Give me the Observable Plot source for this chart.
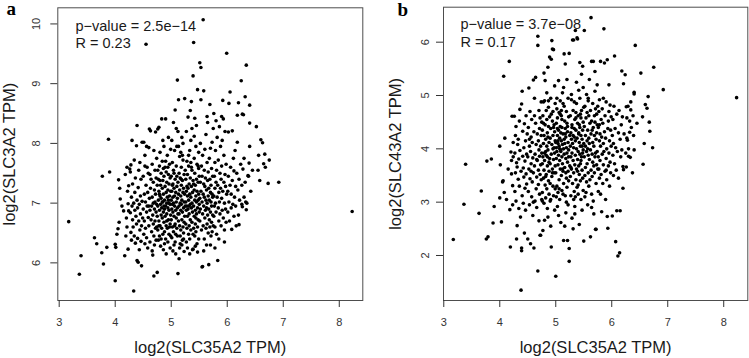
<!DOCTYPE html>
<html><head><meta charset="utf-8">
<script src="https://cdn.jsdelivr.net/npm/d3@7"></script>
<script src="https://cdn.jsdelivr.net/npm/@observablehq/plot@0.6"></script>
<style>
body{margin:0;background:#fff;}
#wrap{display:flex;width:749px;height:358px;overflow:hidden;}
#wrap svg{display:block;flex:none;}
</style></head><body><div id="wrap"></div>
<script>
// shared x: log2(SLC35A2 TPM)
const slc35a2 = [
3.17,3.36,3.39,3.63,3.67,3.76,3.77,3.79,3.85,3.88,3.90,
4.00,4.00,4.01,4.03,4.05,4.07,4.06,4.08,4.09,4.12,4.15,4.17,4.18,4.19,4.20,4.21,4.21,4.22,4.23,4.23,4.24,4.24,
4.26,4.27,4.27,4.28,4.28,4.29,4.29,4.30,4.30,4.31, 4.31,4.32,4.33,4.33,4.34,4.34,4.35,4.35,4.36,4.36, 4.37,4.38,4.38,4.39,4.39,4.39,4.40,4.40,4.41,4.41, 4.42,4.42,4.43,4.43,4.44,4.44,4.45,4.45,4.46,4.46, 4.47,4.47,4.48,4.48,4.49,
4.50,4.50,4.51,4.51,4.52,4.52,4.53,4.53,4.54,4.54, 4.55,4.55,4.56,4.56,4.57,4.57,4.58,4.58,4.59,4.59, 4.60,4.60,4.61,4.61,4.62,4.62,4.63,4.63,4.64,4.64, 4.65,4.65,4.66,4.66,4.67,4.67,4.68,4.68,4.68,4.69, 4.69,4.69,4.70,4.70,4.70,4.71,4.71,4.71,4.72,4.72, 4.72,4.73,4.73,4.73,4.74,4.74,4.74,4.75,4.75,4.75, 4.56,4.62,4.66,4.53,4.60,
4.76,4.76,4.76,4.77,4.77,4.77,4.78,4.78,4.78,4.79, 4.79,4.79,4.80,4.80,4.80,4.81,4.81,4.81,4.82,4.82, 4.82,4.83,4.83,4.83,4.84,4.84,4.84,4.85,4.85,4.85, 4.86,4.86,4.86,4.87,4.87,4.87,4.88,4.88,4.88,4.89, 4.89,4.89,4.90,4.90,4.90,4.91,4.91,4.91,4.92,4.92, 4.92,4.93,4.93,4.93,4.94,4.94,4.94,4.95,4.95,4.95, 4.96,4.96,4.96,4.97,4.97,4.97,4.98,4.98,4.98,4.99, 4.99,4.99,4.76,4.78,4.80,4.82,4.84,4.86,4.88,4.90, 4.92,4.94,4.96,4.98,4.85,4.91,4.79,4.95,4.87,4.99,
5.00,5.00,5.00,5.01,5.01,5.01,5.02,5.02,5.02,5.03, 5.03,5.03,5.04,5.04,5.04,5.05,5.05,5.05,5.06,5.06, 5.06,5.07,5.07,5.07,5.08,5.08,5.08,5.09,5.09,5.09, 5.10,5.10,5.10,5.11,5.11,5.11,5.12,5.12,5.12,5.13, 5.13,5.13,5.14,5.14,5.14,5.15,5.15,5.15,5.16,5.16, 5.16,5.17,5.17,5.17,5.18,5.18,5.18,5.19,5.19,5.19, 5.20,5.20,5.20,5.21,5.21,5.21,5.22,5.22,5.22,5.23, 5.23,5.23,5.24,5.24,5.24,5.25,5.25,5.01,5.03,5.05, 5.07,5.09,5.11,5.13,5.15,5.17,5.19,5.21,5.23,5.02, 5.06,5.10,5.14,5.18,5.22,5.04,5.12,5.20,5.08,5.16,
5.26,5.26,5.26,5.27,5.27,5.27,5.28,5.28,5.28,5.29, 5.29,5.29,5.30,5.30,5.30,5.31,5.31,5.31,5.32,5.32, 5.32,5.33,5.33,5.33,5.34,5.34,5.34,5.35,5.35,5.35, 5.36,5.36,5.36,5.37,5.37,5.37,5.38,5.38,5.38,5.39, 5.39,5.39,5.40,5.40,5.40,5.41,5.41,5.41,5.42,5.42, 5.42,5.43,5.43,5.43,5.44,5.44,5.44,5.45,5.45,5.45, 5.46,5.46,5.46,5.47,5.47,5.47,5.48,5.48,5.48,5.49, 5.49,5.49,5.50,5.50,5.50,5.27,5.29,5.31,5.33,5.35, 5.37,5.39,5.41,5.43,5.45,5.47,5.49,5.28,5.32,5.36, 5.40,5.44,5.48,5.34,5.42,
5.51,5.51,5.51,5.52,5.52,5.53,5.53,5.53,5.54,5.54, 5.55,5.55,5.55,5.56,5.56,5.56,5.57,5.57,5.57,5.58, 5.58,5.58,5.59,5.59,5.59,5.60,5.60,5.60,5.61,5.61, 5.62,5.62,5.62,5.63,5.63,5.63,5.64,5.64,5.64,5.65, 5.65,5.65,5.66,5.66,5.66,5.67,5.67,5.67,5.68,5.68, 5.68,5.69,5.69,5.69,5.70,5.70,5.70,5.71,5.71,5.71, 5.72,5.72,5.72,5.73,5.73,5.73,5.74,5.74,5.74,5.75, 5.75,5.52,5.58,5.64,5.70,
5.76,5.76,5.76,5.77,5.77,5.78,5.78,5.78,5.79,5.79, 5.80,5.80,5.81,5.81,5.82,5.82,5.83,5.83,5.84,5.84, 5.85,5.85,5.86,5.86,5.87,5.87,5.88,5.88,5.89,5.89, 5.90,5.90,5.91,5.91,5.92,5.92,5.93,5.93,5.94,5.94, 5.95,5.95,5.96,5.96,5.97,5.97,5.98,5.98,5.99,5.99, 5.80,5.85,5.90,5.95,5.78,
6.01,6.01,6.02,6.02,6.03,6.03,6.04,6.05,6.05,6.06, 6.07,6.07,6.08,6.09,6.09,6.10,6.11,6.12,6.12,6.13, 6.14,6.15,6.15,6.16,6.17,6.18,6.18,6.19,6.20,6.20, 6.21,6.21,6.22,6.24,6.25,
6.26,6.26,6.27,6.27,6.28,6.29,6.30,6.30,6.32,6.32, 6.33,6.34,6.34,6.35,6.37,6.38,6.39,6.40,6.40,6.40, 6.42,6.45,
6.52,6.56,6.58,6.60,6.63,6.65,6.67,6.68,6.73,6.75,6.92,6.55,
8.23
];
// panel a y: log2(SLC3A2 TPM)
const slc3a2 = [
6.69,5.81,6.12,6.42,6.32,6.17,7.45,5.98,6.26,8.07,7.52,
5.70,6.31,6.26,6.48,6.57,6.68,7.39,7.25,7.07,6.95,6.87,6.12,7.48,6.45,6.75,7.60,6.60,7.20,6.23,6.99,6.87,7.29,
7.57,7.52,6.84,7.64,6.51,7.10,6.38,8.05,6.95,6.72, 7.32,6.60,5.53,7.00,7.72,6.45,6.88,7.18,6.33,7.42, 6.78,7.96,6.65,8.30,6.04,7.05,6.92,6.41,6.01,7.26, 6.70,7.55,6.22,6.98,7.68,6.55,7.12,6.82,6.36,7.40, 5.95,6.62,8.02,7.03,6.75,
6.90,7.45,8.02,6.48,7.15,6.70,7.80,6.32,7.02,6.58, 9.66,7.30,6.85,6.42,7.60,6.95,7.18,6.25,6.76,7.50, 7.93,6.62,8.24,7.08,6.88,6.35,8.21,7.25,6.72,7.40, 6.95,6.52,7.65,7.10,6.13,6.80,7.35,6.65,7.00,7.88, 5.78,6.45,7.22,6.90,6.30,7.55,7.02,6.70,8.19,6.58, 7.15,6.85,7.42,6.38,7.75,6.98,6.60,5.84,7.30,6.78, 7.95,7.48,6.20,7.62,6.95,
8.24,6.95,6.55,7.40,7.05,6.38,8.27,7.20,6.70,7.62, 6.88,6.45,7.12,6.62,7.85,6.98,7.30,6.28,7.50,6.80, 7.08,8.41,6.92,6.58,7.25,7.70,6.75,7.02,6.48,7.38, 6.85,7.15,6.22,7.95,6.68,7.45,7.05,6.90,6.52,7.28, 7.60,6.78,8.41,6.95,6.40,7.18,6.62,7.52,7.00,6.82, 7.35,6.58,7.10,7.80,6.92,6.35,7.22,7.48,6.72,7.05, 6.48,7.32,6.88,7.65,7.12,6.60,6.98,7.42,6.25,7.20, 6.80,7.90,7.55,6.62,7.38,6.40,7.02,7.58,6.32,7.70, 6.70,7.60,7.00,6.65,8.05,6.15,7.15,8.10,6.95,6.45,
7.05,6.72,7.45,6.90,7.20,6.42,7.68,6.98,6.60,7.32, 6.85,7.10,6.52,7.55,7.00,6.78,7.25,6.30,7.88,6.95, 7.12,8.56,6.65,7.40,6.88,7.18,6.48,7.02,7.62,6.75, 7.28,6.58,7.95,9.06,6.92,7.08,5.82,7.35,6.82,8.73, 6.70,7.15,6.07,7.50,6.95,7.22,6.62,7.78,7.00,6.45, 7.42,6.88,7.12,6.55,7.60,6.98,7.30,6.72,8.10,7.05, 6.38,7.38,6.85,7.18,6.60,7.72,6.92,7.25,6.50,6.19, 7.48,7.02,8.75,6.78,7.15,6.95,7.55,8.05,6.20,7.50, 6.35,8.25,6.45,7.95,6.25,7.85,6.30,8.00,6.68,7.30, 6.62,7.45,6.82,7.40,6.40,8.35,8.20,7.80,6.15,6.32,
7.02,6.65,7.40,6.88,7.20,6.35,7.70,6.95,6.58,7.12, 7.48,6.78,8.44,6.90,7.25,6.48,7.05,7.62,6.82,7.32, 6.62,7.15,7.88,6.40,6.98,7.42,6.72,7.10,8.05,6.55, 8.70,6.92,7.28,6.68,7.55,7.00,6.22,7.18,6.85,9.13, 6.23,7.38,9.69,6.95,6.58,7.22,7.75,6.78,7.05,6.45, 7.50,6.88,7.30,6.65,7.95,7.12,6.52,7.40,6.82,7.02, 7.65,6.32,7.20,8.90,6.92,6.60,7.35,7.05,6.72,7.58, 6.40,7.15,6.85,7.45,6.98,8.20,6.25,7.80,6.15,7.68, 8.25,6.48,8.12,6.28,8.30,6.18,7.85,7.28,6.95,7.60, 7.32,6.75,7.62,8.55,8.42,
9.35,7.08,6.70,7.35,6.90,9.27,8.73,7.20,6.55,7.62, 5.93,7.02,7.45,5.94,6.82,7.80,10.07,7.15,6.62,8.88, 7.32,6.95,7.55,6.40,7.10,7.90,6.75,7.28,6.88,7.42, 6.58,7.05,8.15,7.22,6.92,6.30,7.68,7.00,6.65,7.38, 6.80,8.35,7.12,6.50,7.52,5.97,7.25,6.90,7.75,6.72, 7.05,8.65,7.40,6.60,7.18,6.85,7.92,6.45,7.30,7.02, 6.68,7.58,6.95,7.15,8.02,6.52,7.45,6.80,7.10,8.25, 6.62,8.00,6.20,8.45,6.30,
8.50,7.12,6.78,7.45,6.95,7.68,6.60,7.25,7.00,7.88, 6.85,7.35,6.48,7.55,7.10,8.10,6.04,7.30,6.92,7.72, 7.18,6.70,8.28,7.02,7.50,6.82,7.25,7.95,6.62,7.40, 7.08,7.62,6.88,8.05,8.72,7.20,8.41,6.75,7.35,7.80, 7.00,6.55,7.48,8.20,6.90,7.28,7.65,6.68,9.51,7.15, 8.38,6.40,8.45,6.35,6.25,
7.20,6.85,8.19,7.45,8.67,7.02,6.70,8.86,7.30,7.60, 6.92,7.15,6.56,8.21,7.38,6.98,7.75,7.54,6.78,7.10, 7.88,6.95,7.28,6.62,7.50,8.47,8.02,7.22,8.68,6.80, 6.64,7.40,7.05,7.65,9.05,
7.30,6.98,8.49,6.94,7.57,8.48,7.75,7.10,8.78,7.35, 7.02,9.31,6.89,7.00,7.46,7.45,7.67,8.64,8.34,7.95, 7.20,7.55,
8.28,7.80,7.38,8.06,8.01,7.66,7.82,7.60,7.33,7.72,7.35,7.55,
6.86
];
// panel b y: log2(SLC43A2 TPM)
const slc43a2 = [
2.30,2.96,3.71,2.79,3.21,2.31,3.77,2.35,3.81,2.61,2.92,
3.08,4.05,3.70,2.63,3.38,5.36,3.40,3.18,4.20,3.05,3.62,5.64,2.86,2.16,3.94,3.78,3.53,4.61,3.31,2.95,4.12,3.85,
4.61,3.92,3.20,4.25,3.55,3.02,4.42,3.74,2.31,2.56, 3.66,4.08,3.43,4.18,2.88,3.81,4.52,3.30,3.97,4.74, 2.72,1.35,3.58,2.14,2.09,4.84,3.12,5.08,3.86,4.33, 3.64,2.98,4.02,3.47,4.47,2.42,3.77,3.26,4.15,2.85, 3.53,4.62,3.90,3.34,4.28,
3.85,2.31,4.40,3.20,5.14,3.62,4.05,2.95,4.70,3.44, 3.95,2.22,4.22,3.72,3.10,4.55,3.38,4.12,2.75,3.83, 5.29,3.55,2.14,4.32,3.68,4.62,3.02,3.90,5.34,4.48, 3.25,4.08,3.47,2.90,4.28,3.78,6.11,5.94,1.71,3.60, 4.15,3.33,4.72,3.98,2.65,4.38,3.15,3.86,4.58,2.38, 3.52,4.05,2.38,3.70,4.25,3.42,4.88,3.05,3.92,4.50, 3.58,4.95,3.80,4.18,3.00,
3.72,4.35,3.18,2.47,4.62,3.85,4.10,3.45,4.88,3.60, 2.98,4.25,2.66,4.90,3.78,5.28,3.32,4.45,3.95,3.08, 4.18,3.52,4.72,3.88,4.05,3.25,4.55,3.68,2.88,4.30, 5.53,2.72,3.98,4.42,3.40,4.78,3.15,4.12,3.58,5.72, 3.82,4.60,3.35,4.20,3.72,4.95,3.05,4.38,5.68,2.16, 3.90,6.03,4.08,3.48,5.87,4.52,3.62,4.25,3.30,4.70, 5.86,3.80,3.12,4.45,3.55,4.02,2.85,4.32,3.92,4.85, 3.68,4.15,3.02,4.48,3.92,3.48,5.05,4.22,3.75,3.02, 4.65,3.55,4.40,5.18,3.85,2.55,5.42,4.00,4.90,3.25,
1.61,4.12,3.55,4.48,3.82,4.02,3.30,4.75,3.95,4.25, 2.92,4.58,3.70,4.10,3.18,5.28,4.35,3.88,4.05,3.42, 4.68,3.78,4.20,3.05,4.42,3.62,4.90,3.98,4.30,2.62, 4.15,3.50,4.62,3.85,4.40,3.22,4.08,3.72,5.05,4.28, 3.58,4.85,2.28,4.00,3.35,5.78,4.18,3.90,4.52,3.65, 4.10,5.59,3.12,4.38,3.82,4.22,2.80,4.70,3.45,4.02, 3.92,4.48,3.28,2.28,4.32,3.75,4.95,3.58,4.12,3.98, 4.60,3.40,2.13,1.89,5.79,4.25,3.68,3.10,4.38,2.75, 4.00,3.95,4.55,3.15,4.80,4.28,3.00,4.42,3.85,4.95, 3.25,4.72,5.15,3.55,2.95,4.15,3.62,5.30,4.65,2.55,
4.05,3.48,4.62,3.85,4.30,3.12,4.18,5.02,3.62,4.45, 3.92,2.70,6.04,4.10,3.35,4.72,3.78,4.25,6.04,3.55, 4.02,4.88,3.20,4.38,3.70,4.55,2.92,6.22,4.15,3.88, 4.35,3.42,4.68,4.00,3.62,5.25,6.08,4.20,3.28,6.06, 4.48,3.80,3.95,4.62,3.15,4.30,3.68,5.10,3.52,4.12, 2.58,4.40,3.90,4.95,3.40,4.05,3.72,4.58,3.05,4.25, 5.40,3.85,4.72,3.60,4.18,2.85,4.35,3.45,5.55,3.98, 4.50,3.22,2.27,4.10,4.78,3.65,4.40,2.50,4.22,3.10, 4.85,3.58,4.28,5.62,3.78,4.05,5.15,4.92,3.05,4.58, 3.32,4.65,3.92,2.78,4.45,
6.22,3.85,4.42,3.50,4.80,4.05,3.65,4.25,3.18,4.58, 3.95,5.02,3.38,4.15,3.72,4.68,4.00,2.95,4.35,3.88, 4.90,3.55,4.20,3.30,4.62,3.80,5.30,4.10,3.42,4.48, 2.35,3.98,4.72,6.46,3.60,4.28,3.15,4.52,5.64,3.90, 4.35,3.48,4.85,3.75,4.12,3.02,4.40,5.64,3.68,4.05, 2.78,4.62,3.55,4.25,5.08,3.85,4.50,2.49,3.92,4.75, 2.49,4.18,3.35,4.65,3.70,4.30,5.20,3.95,4.45,3.62, 4.80,3.10,4.95,2.90,5.45,
3.85,4.40,3.20,4.70,3.62,4.15,4.92,3.45,4.28,3.78, 5.64,4.05,3.52,4.55,2.82,4.22,3.90,4.75,3.35,4.48, 3.70,4.10,6.25,3.95,5.61,4.32,3.58,4.62,3.05,4.20, 3.82,4.88,4.00,3.42,5.67,2.73,2.51,4.38,3.68,4.52, 3.92,4.70,3.30,4.15,4.82,3.75,4.35,3.55,4.05,4.60, 3.15,4.95,3.60,5.20,4.45,
2.74,4.25,3.88,4.55,3.50,4.10,4.80,5.74,3.72,4.38, 2.26,4.02,3.60,2.84,4.65,3.95,1.99,4.30,3.45,4.72, 2.05,2.84,4.18,3.85,4.45,5.46,3.98,4.60,3.26,3.67, 3.61,5.22,4.28,5.39,3.92,
4.79,3.66,4.58,4.20,4.16,4.80,4.00,3.86,4.31,4.52, 3.84,4.73,4.88,4.40,3.55,4.62,4.25,5.06,5.03,3.98, 5.94,4.48,
5.42,3.71,4.10,4.83,4.76,4.98,4.50,4.33,4.02,5.53,5.11,4.60,
4.96
];

const xTicks = [3, 4, 5, 6, 7, 8];
const yTicksA = [6, 7, 8, 9, 10];
const yTicksB = [2, 3, 4, 5, 6];
const xTitle = "log2(SLC35A2 TPM)";
const yTitleA = "log2(SLC3A2 TPM)";
const yTitleB = "log2(SLC43A2 TPM)";
const statsA = ["p\u2212value = 2.5e\u221214", "R = 0.23"];
const statsB = ["p\u2212value = 3.7e\u221208", "R = 0.17"];

const sans = "'Liberation Sans', Arial, Helvetica, sans-serif";
const serif = "'Liberation Serif', 'Times New Roman', serif";

function panel(o) {
  return Plot.plot({
    width: o.width, height: 358,
    marginLeft: o.ml, marginRight: o.mr, marginTop: o.mt, marginBottom: 58,
    x: {domain: o.xDomain, label: null},
    y: {domain: o.yDomain, label: null},
    style: {fontFamily: sans, fontSize: "11px", color: "#333", background: "#fff", overflow: "visible"},
    marks: [
      Plot.frame({stroke: "#4d4d4d", strokeWidth: 1}),
      Plot.axisX({ticks: xTicks, tickSize: 7, tickPadding: 11, label: null, tickFormat: d => String(d)}),
      Plot.axisY({ticks: o.yTicks, tickSize: 7, label: null, tickFormat: () => ""}),
      Plot.text(o.yTicks, {frameAnchor: "left", y: d => d, text: d => String(d), rotate: -90,
        dx: -o.ytdx, fontSize: 11, fill: "#333", textAnchor: "middle", lineAnchor: "middle"}),
      Plot.dot(slc35a2, {x: slc35a2, y: o.ys, r: 1.8, fill: "#000"}),
      Plot.text([xTitle], {frameAnchor: "bottom", dy: 52, lineAnchor: "bottom", textAnchor: "middle",
        fontSize: 16.5, fill: "#1a1a1a", text: d => d}),
      Plot.text([o.yTitle], {frameAnchor: "left", dx: -48, rotate: -90, lineAnchor: "middle", textAnchor: "middle",
        fontSize: 16.5, fill: "#1a1a1a", text: d => d}),
      Plot.text([o.stats.join("\n")], {frameAnchor: "top-left", dx: o.sdx, dy: o.sdy, textAnchor: "start",
        lineAnchor: "top", lineHeight: 1.2, fontSize: 14.5, fill: "#1a1a1a", text: d => d}),
      Plot.text([o.tag], {frameAnchor: "top-left", dx: o.tdx, dy: o.tdy, textAnchor: "start", lineAnchor: "bottom",
        fontSize: 19, fontWeight: "bold", fontFamily: serif, fill: "#000", text: d => d})
    ]
  });
}

const wrap = document.getElementById("wrap");
wrap.appendChild(panel({
  width: 374, ml: 57.3, mr: 11.7, mt: 7.3,
  xDomain: [2.975, 8.42], yDomain: [5.37, 10.27], yTicks: yTicksA, ys: slc3a2,
  ytdx: 21.5, yTitle: yTitleA, stats: statsA, sdx: 17.7, sdy: 10.7, tag: "a", tdx: -51.3, tdy: 7.5
}));
wrap.appendChild(panel({
  width: 375, ml: 69, mr: 1.7, mt: 6.7,
  xDomain: [2.995, 8.43], yDomain: [1.156, 6.656], yTicks: yTicksB, ys: slc43a2,
  ytdx: 18.5, yTitle: yTitleB, stats: statsB, sdx: 17, sdy: 9.7, tag: "b", tdx: -46, tdy: 8.3
}));
</script>
</body></html>
